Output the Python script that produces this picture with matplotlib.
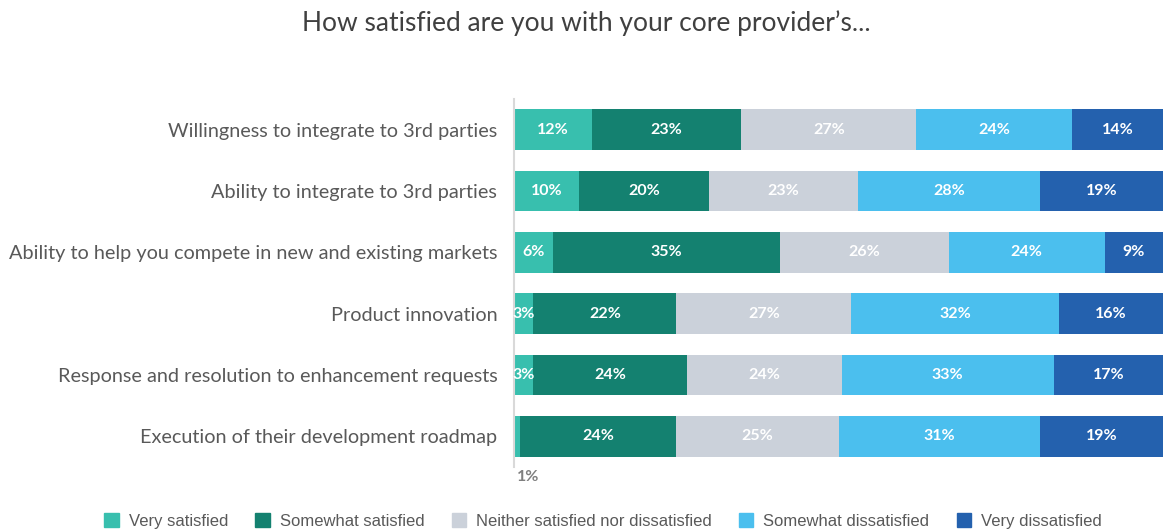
import numpy as np
import matplotlib.pyplot as plt
from matplotlib.patches import Patch

categories = [
    "Willingness to integrate to 3rd parties",
    "Ability to integrate to 3rd parties",
    "Ability to help you compete in new and existing markets",
    "Product innovation",
    "Response and resolution to enhancement requests",
    "Execution of their development roadmap",
]
series = ["Very satisfied", "Somewhat satisfied", "Neither satisfied nor dissatisfied",
          "Somewhat dissatisfied", "Very dissatisfied"]
very_sat = [12, 10, 6, 3, 3, 1]
some_sat = [23, 20, 35, 22, 24, 24]
neither = [27, 23, 26, 27, 24, 25]
some_dis = [24, 28, 24, 32, 33, 31]
very_dis = [14, 19, 9, 16, 17, 19]
colors = ["#38bfae", "#148170", "#cbd1da", "#4bbfee", "#2461ae"]

vals = np.array([very_sat, some_sat, neither, some_dis, very_dis], dtype=float)
# rounded values don't always sum to 100 -> scale each row to full width
shares = vals / vals.sum(axis=0) * 100

fig = plt.figure(figsize=(11.63, 5.31), dpi=100)
ax = fig.add_axes([514 / 1163, 1 - 467 / 531, 649 / 1163, 368 / 531])

y = np.arange(len(categories))
left = np.zeros(len(categories))
for i, (name, col) in enumerate(zip(series, colors)):
    ax.barh(y, shares[i], left=left, height=0.66, color=col, label=name)
    for j in range(len(categories)):
        v = int(vals[i, j])
        cx = left[j] + shares[i, j] / 2
        if v >= 3:
            ax.text(cx, y[j], f"{v}%", ha="center", va="center", color="white",
                    fontsize=11.5, fontweight="bold", family="Lato")
        else:
            # tiny segment: label under the bar
            ax.text(left[j] + 0.4, y[j] + 0.66, f"{v}%", ha="left", va="center",
                    color="#7f7f7f", fontsize=11.5, fontweight="bold", family="Lato")
    left += shares[i]

ax.set_xlim(0, 100)
ax.set_ylim(len(categories) - 0.5, -0.5)
ax.set_yticks(y)
ax.set_yticklabels(categories, fontsize=14.3, color="#595959", family="Lato")
ax.tick_params(axis="y", length=0, pad=12)
ax.set_xticks([])
for s in ["top", "right", "bottom"]:
    ax.spines[s].set_visible(False)
ax.spines["left"].set_color("#d9d9d9")
ax.spines["left"].set_linewidth(1.5)

fig.text(586 / 1163, 1 - 23 / 531, "How satisfied are you with your core provider\u2019s...",
         ha="center", va="center", fontsize=19, color="#404040", family="Lato")

handles = [Patch(color=c, label=n) for n, c in zip(series, colors)]
fig.legend(handles=handles, loc="center", bbox_to_anchor=(603 / 1163, 1 - 521 / 531),
           ncol=5, frameon=False, handlelength=0.85, handleheight=0.85, handletextpad=0.6,
           columnspacing=1.65, prop={"family": "Liberation Sans", "size": 12},
           labelcolor="#595959")

fig.savefig("out.png", dpi=100)
